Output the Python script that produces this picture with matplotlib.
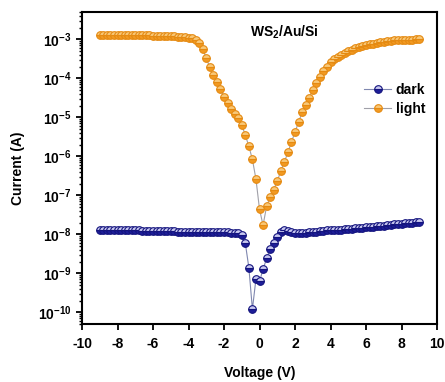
import numpy as np
import matplotlib
matplotlib.use("Agg")
import matplotlib.pyplot as plt

plt.rcParams["font.family"] = ["Liberation Sans", "DejaVu Sans"]
plt.rcParams["font.weight"] = "bold"
plt.rcParams["axes.unicode_minus"] = False
plt.rcParams["mathtext.fontset"] = "custom"
plt.rcParams["mathtext.rm"] = "Liberation Sans:bold"
plt.rcParams["mathtext.bf"] = "Liberation Sans:bold"
plt.rcParams["mathtext.it"] = "Liberation Sans:bold"

# voltage sweep, -9 V to 9 V in 0.2 V steps
voltage = np.round(np.arange(-9.0, 9.01, 0.2), 1)

dark_current = [
    1.30e-8, 1.30e-8, 1.29e-8, 1.29e-8, 1.28e-8, 1.28e-8, 1.27e-8, 1.27e-8, 1.26e-8, 1.26e-8,
    1.25e-8, 1.25e-8, 1.24e-8, 1.24e-8, 1.23e-8, 1.23e-8, 1.22e-8, 1.21e-8, 1.20e-8, 1.20e-8,
    1.19e-8, 1.18e-8, 1.17e-8, 1.17e-8, 1.16e-8, 1.16e-8, 1.15e-8, 1.15e-8, 1.14e-8, 1.14e-8,
    1.13e-8, 1.13e-8, 1.12e-8, 1.12e-8, 1.12e-8, 1.11e-8, 1.11e-8, 1.10e-8, 1.10e-8, 1.08e-8,
    9.3e-9, 5.9e-9, 1.4e-9, 1.2e-10, 7.1e-10, 6.2e-10, 1.26e-9, 2.4e-9, 4.2e-9, 5.9e-9,
    8.3e-9, 1.12e-8, 1.26e-8, 1.20e-8, 1.12e-8, 1.07e-8, 1.05e-8, 1.07e-8, 1.10e-8, 1.12e-8,
    1.15e-8, 1.17e-8, 1.20e-8, 1.22e-8, 1.25e-8, 1.27e-8, 1.28e-8, 1.30e-8, 1.32e-8, 1.35e-8,
    1.37e-8, 1.40e-8, 1.42e-8, 1.45e-8, 1.48e-8, 1.50e-8, 1.53e-8, 1.56e-8, 1.60e-8, 1.63e-8,
    1.67e-8, 1.70e-8, 1.74e-8, 1.78e-8, 1.82e-8, 1.86e-8, 1.90e-8, 1.95e-8, 2.00e-8, 2.05e-8,
    2.12e-8,
]

light_current = [
    1.30e-3, 1.30e-3, 1.29e-3, 1.29e-3, 1.28e-3, 1.28e-3, 1.28e-3, 1.27e-3, 1.27e-3, 1.27e-3,
    1.26e-3, 1.26e-3, 1.26e-3, 1.25e-3, 1.25e-3, 1.24e-3, 1.24e-3, 1.23e-3, 1.22e-3, 1.21e-3,
    1.20e-3, 1.19e-3, 1.17e-3, 1.15e-3, 1.13e-3, 1.10e-3, 1.05e-3, 9.5e-4, 8.0e-4, 5.6e-4,
    3.3e-4, 1.9e-4, 1.2e-4, 7.9e-5, 5.2e-5, 3.4e-5, 2.3e-5, 1.6e-5, 1.2e-5, 9.3e-6,
    6.3e-6, 3.5e-6, 1.8e-6, 8.3e-7, 2.6e-7, 4.4e-8, 1.7e-8, 5.2e-8, 8.9e-8, 1.4e-7,
    2.3e-7, 4.2e-7, 7.1e-7, 1.26e-6, 2.3e-6, 4.2e-6, 7.4e-6, 1.35e-5, 2.1e-5, 3.2e-5,
    4.9e-5, 7.4e-5, 1.07e-4, 1.5e-4, 2.0e-4, 2.6e-4, 3.1e-4, 3.5e-4, 3.9e-4, 4.4e-4,
    4.9e-4, 5.4e-4, 5.9e-4, 6.2e-4, 6.6e-4, 7.1e-4, 7.4e-4, 7.6e-4, 7.9e-4, 8.3e-4,
    8.7e-4, 8.9e-4, 9.1e-4, 9.3e-4, 9.5e-4, 9.6e-4, 9.7e-4, 9.8e-4, 9.8e-4, 9.9e-4,
    9.9e-4,
]

fig = plt.figure(figsize=(4.45, 3.82), dpi=100)
ax = fig.add_axes([82 / 445, 58 / 382, 355 / 445, 312 / 382])

ax.plot(voltage, dark_current, "-o", color="#8088b0", lw=0.8, ms=5.5,
        mfc="#1e1e9a", mec="#14147e", mew=0.8, fillstyle="bottom",
        markerfacecoloralt="#c8c8f0", label="dark", zorder=3)
ax.plot(voltage, light_current, "-o", color="#a0a0a8", lw=0.8, ms=5.5,
        mfc="#f29a22", mec="#e58a12", mew=0.8, fillstyle="bottom",
        markerfacecoloralt="#f8c878", label="light", zorder=3)

ax.set_yscale("log")
ax.set_xlim(-10, 10)
ax.set_ylim(5e-11, 5e-3)
ax.set_xticks(np.arange(-10, 11, 2))
ax.set_yticks([1e-10, 1e-9, 1e-8, 1e-7, 1e-6, 1e-5, 1e-4, 1e-3])

ax.tick_params(axis="both", which="major", direction="out", length=4.5, width=1.3,
               labelsize=10)
ax.tick_params(axis="x", which="major", pad=5)
ax.tick_params(axis="y", which="major", pad=3)
ax.tick_params(axis="y", which="minor", direction="out", length=2.5, width=1.0)
ax.tick_params(axis="x", which="minor", bottom=False)
for lbl in ax.get_xticklabels() + ax.get_yticklabels():
    lbl.set_fontweight("bold")
for sp in ax.spines.values():
    sp.set_linewidth(1.5)

ax.set_xlabel("Voltage (V)", fontsize=10, fontweight="bold", labelpad=11)
ax.set_ylabel("Current (A)", fontsize=10, fontweight="bold", labelpad=9)

ax.text(0.57, 0.935, r"WS$_{2}$/Au/Si", transform=ax.transAxes, ha="center",
        va="center", fontsize=10, fontweight="bold")

ax.legend(loc="upper right", bbox_to_anchor=(0.99, 0.80), frameon=False,
          fontsize=10, handlelength=2.0, handletextpad=0.3, labelspacing=0.4,
          borderaxespad=0.2)

fig.savefig("out.png", dpi=100)
